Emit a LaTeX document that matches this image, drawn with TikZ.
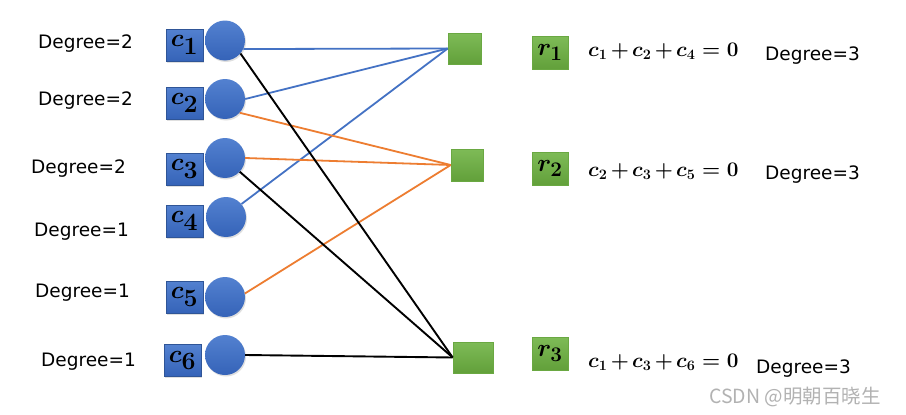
\documentclass[tikz,border=0pt]{standalone}
\usepackage{fontspec}
\usepackage{amsmath}
\newfontfamily\degfont{DejaVu Sans}
\newfontfamily\cjkfont{Noto Sans CJK SC}
\usetikzlibrary{shadows}
\definecolor{cblue}{HTML}{4472C4}
\definecolor{cbluetop}{HTML}{5381D0}
\definecolor{cbluebot}{HTML}{3563B8}
\definecolor{cbluedark}{HTML}{2F5597}
\definecolor{cgreentop}{HTML}{7EBB57}
\definecolor{cgreenbot}{HTML}{62A03A}
\definecolor{cgreenline}{HTML}{6AA842}
\definecolor{corange}{HTML}{ED7D31}
\newcommand{\tighteq}[1]{$\medmuskip=2.5mu\relax\thickmuskip=5mu\relax #1$}
\tikzset{
  vnode/.style={circle, minimum size=40pt, inner sep=0pt, top color=cbluetop, bottom color=cbluebot,
    drop shadow={opacity=0.25, shadow xshift=1pt, shadow yshift=-1.5pt}},
  cbox/.style={rectangle, minimum width=37pt, minimum height=32pt, inner sep=0pt,
    top color=cbluetop, bottom color=cbluebot, draw=cbluedark, line width=0.6pt,
    drop shadow={opacity=0.25, shadow xshift=1pt, shadow yshift=-1.5pt},
    font=\fontsize{35}{35}\selectfont\boldmath},
  qbox/.style={rectangle, inner sep=0pt, top color=cgreentop, bottom color=cgreenbot, draw=cgreenline, line width=0.6pt},
  rbox/.style={qbox, minimum width=36pt, minimum height=33pt, font=\fontsize{31}{31}\selectfont\boldmath},
  deg/.style={font=\degfont\fontsize{18.5}{21}\selectfont, inner sep=0pt, anchor=west},
  eqn/.style={font=\fontsize{21.5}{24}\selectfont\boldmath, inner sep=0pt, anchor=west},
  bl/.style={cblue, line width=1.8pt},
  og/.style={corange, line width=1.8pt},
  bk/.style={black, line width=1.9pt},
}
\begin{document}
\begin{tikzpicture}[x=1pt, y=-1pt]
\useasboundingbox[fill=white] (0,0) rectangle (906,415);

% degree labels left
\node[deg] (d1) at (38,44) {Degree=2};
\node[deg] (d2) at (38,101) {Degree=2};
\node[deg] (d3) at (31,169) {Degree=2};
\node[deg] (d4) at (34,232) {Degree=1};
\node[deg] (d5) at (35,293) {Degree=1};
\node[deg] (d6) at (41,362) {Degree=1};

% check nodes
\node[qbox, minimum width=33pt, minimum height=31pt] (q1) at (464.5,48.5) {};
\node[qbox, minimum width=32pt, minimum height=32pt] (q2) at (467,165) {};
\node[qbox, minimum width=40pt, minimum height=31pt] (q3) at (473,357.5) {};

% circles
\node[vnode] (v1) at (225,40.5) {};
\node[vnode] (v2) at (225,99) {};
\node[vnode] (v3) at (225,158) {};
\node[vnode] (v4) at (226,217) {};
\node[vnode] (v5) at (225,297) {};
\node[vnode] (v6) at (225,355) {};

% edges
\draw[bl] (v1.-25) -- (q1.west);
\draw[bl] (v2.east) -- (q1.west);
\draw[bl] (v4.40) -- (q1.west);
\draw[og] (v2.-43) -- (q2.west);
\draw[og] (v3.east) -- (q2.west);
\draw[og] (v5.10) -- (q2.west);
\draw[bk] (v1.-40) -- (q3.west);
\draw[bk] (v3.-43) -- (q3.west);
\draw[bk] (v6.east) -- (q3.west);

% variable boxes
\node[cbox] (c1) at (184.5,45) {$c_1$};
\node[cbox] (c2) at (184.5,103) {$c_2$};
\node[cbox] (c3) at (184.5,169) {$c_3$};
\node[cbox] (c4) at (184.5,221) {$c_4$};
\node[cbox] (c5) at (184.5,297) {$c_5$};
\node[cbox] (c6) at (182.5,360.5) {$c_6$};

% r boxes
\node[rbox] (r1) at (550,52.5) {$r_1$};
\node[rbox] (r2) at (550,168.5) {$r_2$};
\node[rbox] (r3) at (550,353.5) {$r_3$};

% equations
\node[eqn] (e1) at (588,51) {\tighteq{c_1+c_2+c_4=0}};
\node[eqn] (e2) at (588,171) {\tighteq{c_2+c_3+c_5=0}};
\node[eqn] (e3) at (588,362) {\tighteq{c_1+c_3+c_6=0}};

% degree labels right
\node[deg] (g1) at (765,56) {Degree=3};
\node[deg] (g2) at (765,175) {Degree=3};
\node[deg] (g3) at (756,369) {Degree=3};

% watermark
\node[font=\cjkfont\fontsize{19.5}{22}\selectfont, text=black!30, inner sep=0pt, anchor=west] (wm) at (709,397) {CSDN @明朝百晓生};
\end{tikzpicture}
\end{document}
